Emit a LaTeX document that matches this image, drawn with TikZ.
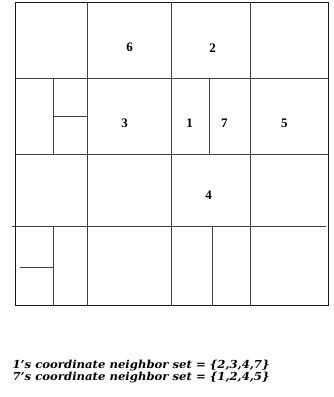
\documentclass[tikz,border=0pt]{standalone}
\usepackage{fontspec}
\setmainfont{Liberation Serif}
\newfontfamily\capfont{DejaVu Serif}
\begin{document}
\begin{tikzpicture}[x=1pt,y=-1pt,
  grid/.style={draw=black!75,line width=0.8pt},
  outer/.style={draw=black!90,line width=1pt},
  lab/.style={font=\fontsize{13}{15}\selectfont\bfseries,inner sep=0pt},
  captext/.style={font=\capfont\fontsize{11}{12}\selectfont\bfseries\itshape,inner sep=0pt,anchor=base west,xscale=1.06}]
\useasboundingbox (0,0) rectangle (333,397);
% grid lines
\draw[grid] (87.7,2.7) -- (87.7,305);
\draw[grid] (171,2.7) -- (171,305);
\draw[grid] (250.3,2.7) -- (250.3,305);
\draw[grid] (15.7,78.3) -- (328,78.3);
\draw[grid] (15.7,154) -- (328,154);
\draw[grid] (12.3,226) -- (326,226);
\draw[grid] (53.7,78.3) -- (53.7,154);
\draw[grid] (53.7,116) -- (87.7,116);
\draw[grid] (209,78.3) -- (209,154);
\draw[grid] (53.7,226) -- (53.7,305);
\draw[grid] (20,267.3) -- (53.7,267.3);
\draw[grid] (212.7,226) -- (212.7,305);
\draw[outer] (15.7,2.7) rectangle (328,305);
% labels
\node[lab] (n6) at (129.7,47.7) {6};
\node[lab] (n2) at (212.7,47.7) {2};
\node[lab] (n3) at (124.7,123.3) {3};
\node[lab] (n1) at (189.7,123.3) {1};
\node[lab] (n7) at (224.3,123.3) {7};
\node[lab] (n5) at (284.3,123.3) {5};
\node[lab] (n4) at (208.7,195.7) {4};
\node[captext] (t1) at (12.3,368) {1’s coordinate neighbor set = \{2,3,4,7\}};
\node[captext] (t2) at (12.3,380.3) {7’s coordinate neighbor set = \{1,2,4,5\}};
\end{tikzpicture}
\end{document}
